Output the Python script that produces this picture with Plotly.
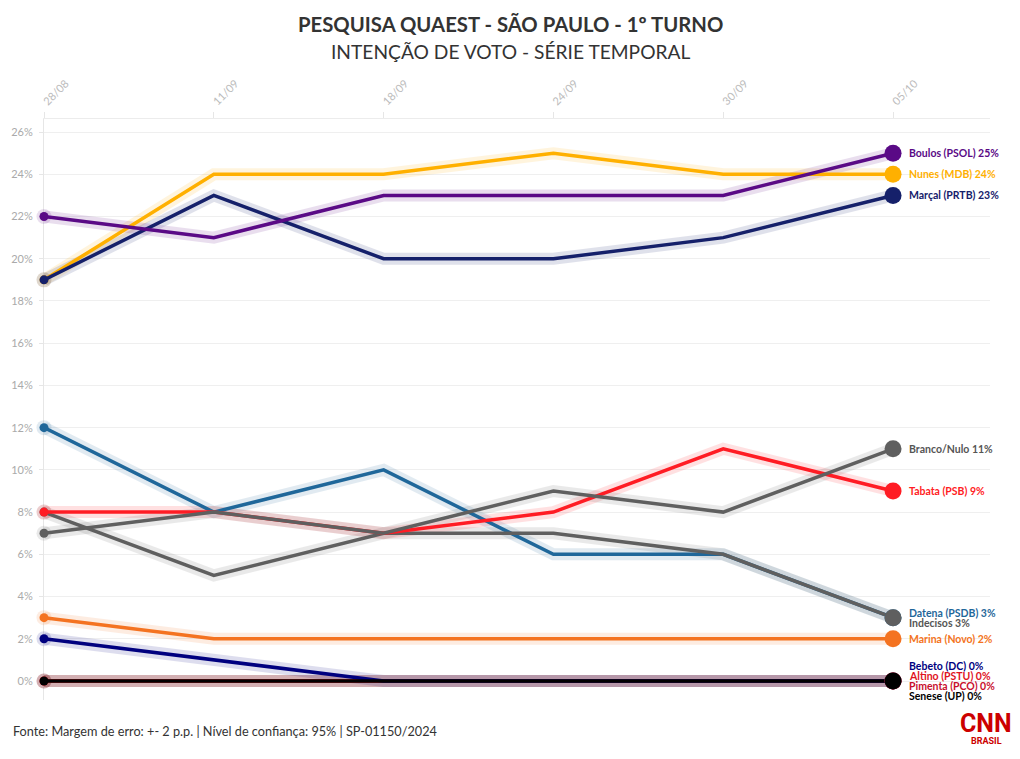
import plotly.graph_objects as go

dates = ["28/08", "11/09", "18/09", "24/09", "30/09", "05/10"]
y_ticks = [0, 2, 4, 6, 8, 10, 12, 14, 16, 18, 20, 22, 24, 26]
y_tick_labels = ["0%", "2%", "4%", "6%", "8%", "10%", "12%", "14%", "16%", "18%",
                 "20%", "22%", "24%", "26%"]

names = ["Pimenta (PCO)", "Altino (PSTU)", "Bebeto (DC)", "Marina (Novo)", "Datena (PSDB)",
         "Indecisos", "Tabata (PSB)", "Branco/Nulo", "Nunes (MDB)", "Marçal (PRTB)",
         "Boulos (PSOL)", "Senese (UP)"]
boulos = [22, 21, 23, 23, 23, 25]
nunes = [19, 24, 24, 25, 24, 24]
marcal = [19, 23, 20, 20, 21, 23]
branco = [7, 8, 7, 9, 8, 11]
tabata = [8, 8, 7, 8, 11, 9]
datena = [12, 8, 10, 6, 6, 3]
indecisos = [8, 5, 7, 7, 6, 3]
marina = [3, 2, 2, 2, 2, 2]
bebeto = [2, 1, 0, 0, 0, 0]
altino = [0, 0, 0, 0, 0, 0]
pimenta = [0, 0, 0, 0, 0, 0]
senese = [0, 0, 0, 0, 0, 0]

values = {
    "Boulos (PSOL)": boulos, "Nunes (MDB)": nunes, "Marçal (PRTB)": marcal,
    "Branco/Nulo": branco, "Tabata (PSB)": tabata, "Datena (PSDB)": datena,
    "Indecisos": indecisos, "Marina (Novo)": marina, "Bebeto (DC)": bebeto,
    "Altino (PSTU)": altino, "Pimenta (PCO)": pimenta, "Senese (UP)": senese,
}
line_colors = {
    "Boulos (PSOL)": "#5a0a86", "Nunes (MDB)": "#ffb000", "Marçal (PRTB)": "#15206a",
    "Branco/Nulo": "#5f5f5f", "Tabata (PSB)": "#ff1c24", "Datena (PSDB)": "#1f679a",
    "Indecisos": "#5f5f5f", "Marina (Novo)": "#f47321", "Bebeto (DC)": "#00007f",
    "Altino (PSTU)": "#e0141e", "Pimenta (PCO)": "#d05060", "Senese (UP)": "#000000",
}
text_colors = dict(line_colors)
text_colors["Branco/Nulo"] = "#555555"
text_colors["Indecisos"] = "#555555"
text_colors["Pimenta (PCO)"] = "#c8102e"
label_shift = {
    "Datena (PSDB)": 5, "Indecisos": -5,
    "Bebeto (DC)": 15, "Altino (PSTU)": 5, "Pimenta (PCO)": -5, "Senese (UP)": -15,
}

font_main = "Lato, 'Source Sans Pro', sans-serif"

fig = go.Figure()

for n in names:
    v = values[n]
    c = line_colors[n]
    fig.add_trace(go.Scatter(
        x=dates, y=v, mode="lines", line=dict(color=c, width=12),
        opacity=0.13, hoverinfo="skip", showlegend=False, cliponaxis=False))
    fig.add_trace(go.Scatter(
        x=[dates[0]], y=[v[0]], mode="markers",
        marker=dict(color=c, size=15, line=dict(width=0)),
        opacity=0.13, hoverinfo="skip", showlegend=False, cliponaxis=False))

for n in names:
    v = values[n]
    c = line_colors[n]
    fig.add_trace(go.Scatter(
        x=dates, y=v, mode="lines", line=dict(color=c, width=3.5),
        name=n, showlegend=False, cliponaxis=False))
    fig.add_trace(go.Scatter(
        x=[dates[0]], y=[v[0]], mode="markers",
        marker=dict(color=c, size=9, line=dict(width=0)),
        hoverinfo="skip", showlegend=False, cliponaxis=False))

end_order = ["Boulos (PSOL)", "Nunes (MDB)", "Marçal (PRTB)", "Branco/Nulo", "Tabata (PSB)",
             "Datena (PSDB)", "Indecisos", "Marina (Novo)", "Bebeto (DC)", "Altino (PSTU)",
             "Pimenta (PCO)", "Senese (UP)"]
for n in end_order:
    v = values[n]
    fig.add_trace(go.Scatter(
        x=[dates[-1]], y=[v[-1]], mode="markers",
        marker=dict(color=line_colors[n], size=17, line=dict(width=0)),
        hoverinfo="skip", showlegend=False, cliponaxis=False))
    fig.add_annotation(
        x=dates[-1], y=v[-1], xref="x", yref="y", xanchor="left", yanchor="middle",
        xshift=14, yshift=label_shift.get(n, 0), showarrow=False,
        text=f"<b>{n} {v[-1]}%</b>",
        font=dict(family=font_main, size=10.5, color=text_colors[n]))

# plot area: x 44..990, y 119..700
def px(x):
    return (x - 44) / 946.0

def py(y):
    return (700 - y) / 581.0

fig.add_annotation(
    x=px(510), y=py(24), xref="paper", yref="paper",
    xanchor="center", yanchor="middle", showarrow=False,
    text="<b>PESQUISA QUAEST - SÃO PAULO - 1º TURNO</b>",
    font=dict(family=font_main, size=20.3, color="#333333"))
fig.add_annotation(
    x=px(510), y=py(51), xref="paper", yref="paper",
    xanchor="center", yanchor="middle", showarrow=False,
    text="INTENÇÃO DE VOTO - SÉRIE TEMPORAL",
    font=dict(family=font_main, size=19.2, color="#333333"))

fig.add_annotation(
    x=px(11), y=py(731), xref="paper", yref="paper", xanchor="left", yanchor="middle",
    showarrow=False,
    text="Fonte: Margem de erro: +- 2 p.p. | Nível de confiança: 95% | SP-01150/2024",
    font=dict(family=font_main, size=12.7, color="#333333"))

fig.add_annotation(
    x=px(986), y=py(723), xref="paper", yref="paper", xanchor="center", yanchor="middle",
    showarrow=False, text="<b>CNN</b>",
    font=dict(family="'Liberation Sans Narrow', Roboto, sans-serif", size=25, color="#cc0000"))
fig.add_annotation(
    x=px(986), y=py(741), xref="paper", yref="paper", xanchor="center", yanchor="middle",
    showarrow=False, text="<b>BRASIL</b>",
    font=dict(family="Roboto, sans-serif", size=9, color="#cc0000"))

fig.update_layout(
    width=1020, height=759,
    margin=dict(l=44, r=30, t=119, b=59),
    paper_bgcolor="white", plot_bgcolor="white",
    font=dict(family=font_main),
    xaxis=dict(
        type="category", side="top", range=[0, 5.571],
        tickangle=-45, tickfont=dict(family=font_main, size=11, color="#bbbbbb"),
        showgrid=False, showline=True, linecolor="#ececec", linewidth=1,
        ticks="outside", ticklen=6, tickcolor="#e6e6e6", zeroline=False,
        layer="below traces"),
    yaxis=dict(
        range=[-0.9, 26.62], tickmode="array", tickvals=y_ticks, ticktext=y_tick_labels,
        tickfont=dict(family=font_main, size=11, color="#aaaaaa"),
        showgrid=True, gridcolor="#efefef", gridwidth=1,
        showline=True, linecolor="#e6e6e6", linewidth=1,
        ticks="outside", ticklen=4, tickcolor="#e6e6e6", zeroline=False,
        ticklabelstandoff=4, automargin=False, layer="below traces"),
)

fig.write_html("out.html")
